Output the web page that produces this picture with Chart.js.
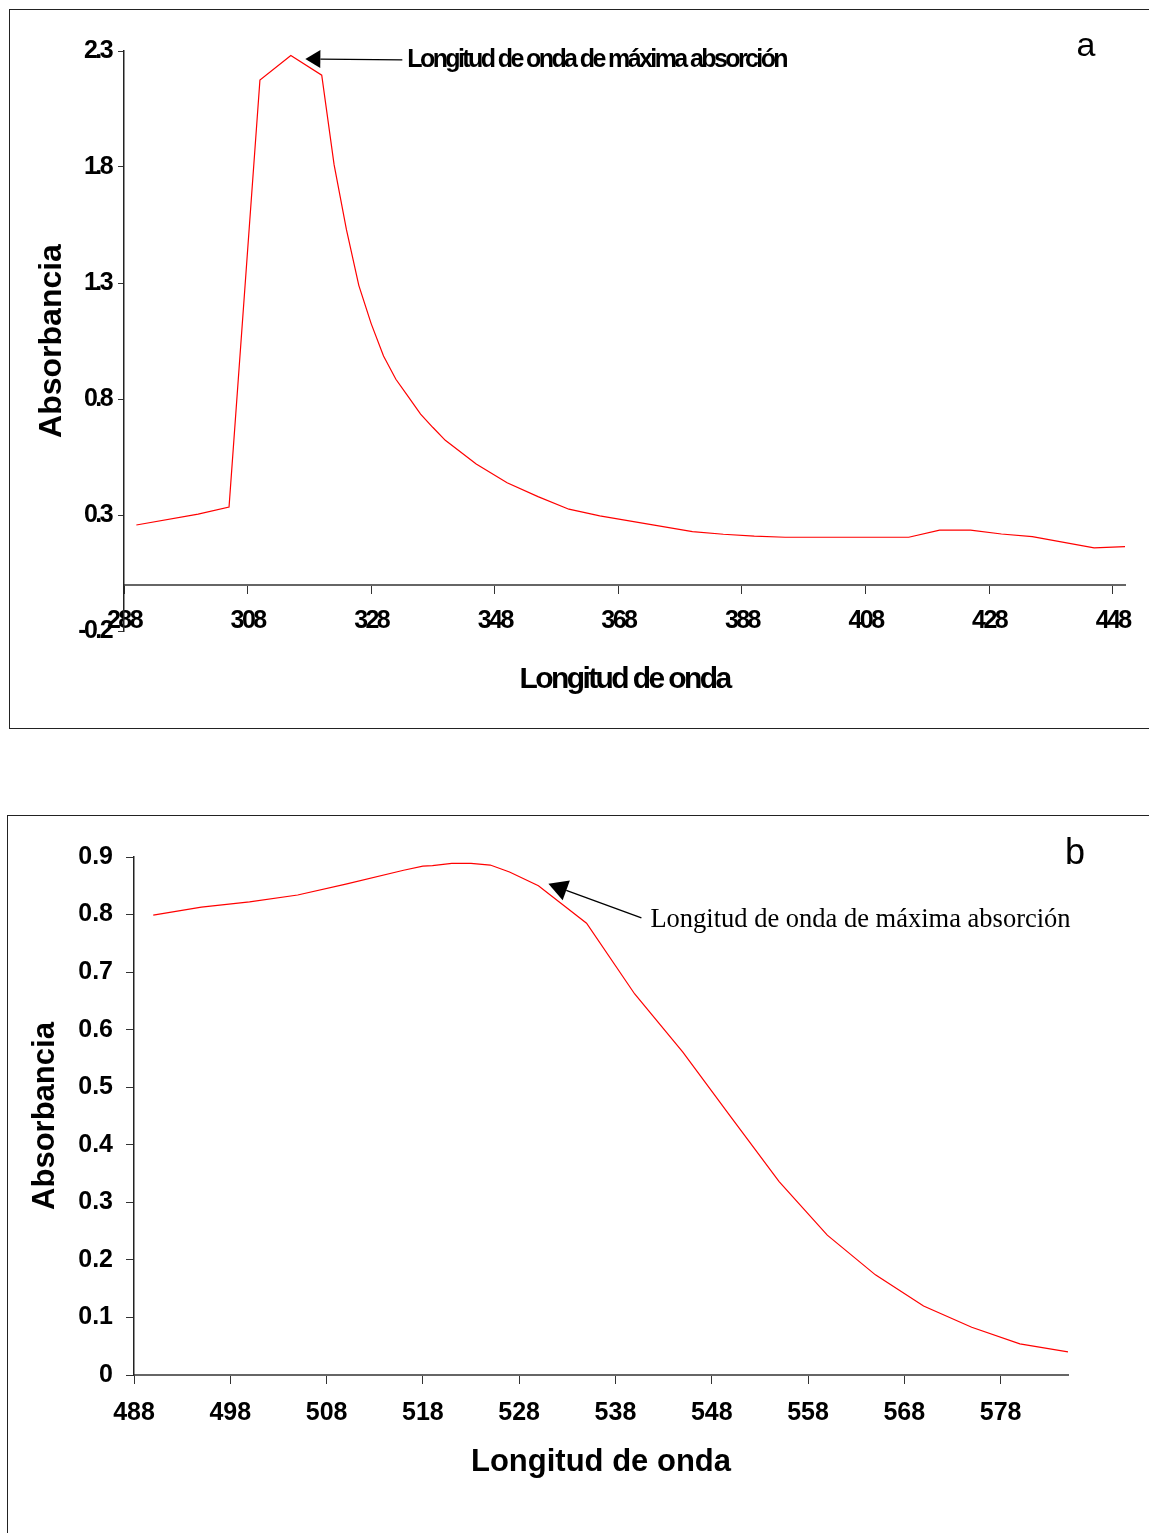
<!DOCTYPE html>
<html lang="es">
<head>
<meta charset="utf-8">
<title>Absorbancia vs longitud de onda</title>
<script src="https://cdn.jsdelivr.net/npm/chart.js@4.4.1/dist/chart.umd.min.js"></script>
<style>
  html, body { margin: 0; padding: 0; background: #fff; overflow: hidden; }
  body { position: relative; width: 1149px; height: 1533px; }
  .box { position: absolute; border: 1.5px solid #222; background: #fff; }
  #boxA { left: 9px; top: 9px; width: 1200px; height: 718px; }
  #boxB { left: 7px; top: 815px; width: 1200px; height: 800px; }
  canvas { position: absolute; left: 0; }
  #chartA { top: 0; }
  #chartB { top: 800px; }
</style>
</head>
<body>
<div class="box" id="boxA"></div>
<div class="box" id="boxB"></div>
<canvas id="chartA" width="1149" height="740"></canvas>
<canvas id="chartB" width="1149" height="733"></canvas>
<script>
// Gráfico a
const waveA = [290, 300, 305, 310, 315, 320, 322, 324, 326, 328, 330, 332, 334, 336, 338, 340, 345, 350, 355, 360, 365, 380, 385, 390, 395, 400, 405, 410, 415, 420, 425, 430, 435, 445, 450];
const absA = [0.257, 0.304, 0.334, 2.175, 2.281, 2.196, 1.81, 1.53, 1.29, 1.125, 0.985, 0.885, 0.81, 0.735, 0.677, 0.622, 0.52, 0.439, 0.379, 0.325, 0.296, 0.228, 0.217, 0.209, 0.204, 0.204, 0.204, 0.204, 0.204, 0.235, 0.235, 0.218, 0.207, 0.158, 0.164];
const xTicksA = [288, 308, 328, 348, 368, 388, 408, 428, 448];
const yTicksA = [-0.2, 0.3, 0.8, 1.3, 1.8, 2.3];

// Gráfico b
const waveB = [490, 495, 500, 505, 510, 516, 518, 519, 521, 523, 525, 527, 530, 535, 540, 545, 550, 555, 560, 565, 570, 575, 580, 585];
const absB = [0.799, 0.813, 0.822, 0.834, 0.853, 0.877, 0.884, 0.885, 0.889, 0.889, 0.886, 0.874, 0.850, 0.785, 0.662, 0.561, 0.448, 0.336, 0.243, 0.174, 0.120, 0.083, 0.054, 0.040];
const xTicksB = [488, 498, 508, 518, 528, 538, 548, 558, 568, 578];
const yTicksB = [0, 0.1, 0.2, 0.3, 0.4, 0.5, 0.6, 0.7, 0.8, 0.9];

const sans = "'Liberation Sans', Arial, sans-serif";
const serif = "'Liberation Serif', 'Book Antiqua', Palatino, serif";

Chart.defaults.font.family = sans;
Chart.defaults.color = '#000';

// flecha + texto de la longitud de onda máxima, letra del panel, título Y opcional
const annotate = {
  id: 'annotate',
  beforeInit(chart, args, o) {
    chart.ctx.letterSpacing = o.spacing || '0px';
  },
  beforeDraw(chart, args, o) {
    chart.ctx.letterSpacing = o.spacing || '0px';
  },
  afterDraw(chart, args, o) {
    const ctx = chart.ctx;
    const xs = chart.scales.x, ys = chart.scales.y;
    const tx = xs.getPixelForValue(o.at[0]) + o.shift[0];
    const ty = ys.getPixelForValue(o.at[1]) + o.shift[1];
    const ex = tx + o.tail[0], ey = ty + o.tail[1];
    const len = Math.hypot(ex - tx, ey - ty);
    const ux = (ex - tx) / len, uy = (ey - ty) / len;
    const bx = tx + ux * o.head, by = ty + uy * o.head;
    ctx.save();
    ctx.strokeStyle = '#000';
    ctx.fillStyle = '#000';
    ctx.lineWidth = 1.3;
    ctx.beginPath();
    ctx.moveTo(bx, by);
    ctx.lineTo(ex, ey);
    ctx.stroke();
    ctx.beginPath();
    ctx.moveTo(tx, ty);
    ctx.lineTo(bx - uy * o.half, by + ux * o.half);
    ctx.lineTo(bx + uy * o.half, by - ux * o.half);
    ctx.closePath();
    ctx.fill();
    ctx.font = o.font;
    ctx.textAlign = 'left';
    ctx.textBaseline = 'middle';
    ctx.fillText(o.text, tx + o.textAt[0], ty + o.textAt[1]);
    ctx.letterSpacing = '0px';
    ctx.font = o.panelFont;
    ctx.textAlign = 'center';
    ctx.fillText(o.panel, o.panelAt[0], o.panelAt[1]);
    if (o.yTitle) {
      const area = chart.chartArea;
      ctx.translate(o.yTitleX, (area.top + area.bottom) / 2);
      ctx.rotate(-Math.PI / 2);
      ctx.font = o.yTitleFont;
      ctx.fillText(o.yTitle, 0, 0);
    }
    ctx.restore();
  }
};

function points(xs, ys) {
  return xs.map((w, i) => ({ x: w, y: ys[i] }));
}

new Chart(document.getElementById('chartA'), {
  type: 'line',
  data: {
    datasets: [{ data: points(waveA, absA), borderColor: '#ff0000', borderWidth: 1.2, pointRadius: 0, tension: 0, fill: false }]
  },
  options: {
    responsive: false,
    animation: false,
    layout: { padding: { left: 0, top: 51, right: 24, bottom: 109 } },
    plugins: {
      legend: { display: false },
      tooltip: { enabled: false },
      annotate: {
        spacing: '-2.6px',
        at: [315, 2.281], shift: [14.5, 3.5], tail: [97, 1], head: 15, half: 9,
        text: 'Longitud de onda de máxima absorción', textAt: [102, 1],
        font: "bold 25px " + sans,
        panel: 'a', panelAt: [1086, 47], panelFont: "34px " + sans,
        yTitle: 'Absorbancia', yTitleX: 52, yTitleFont: "bold 32px " + sans
      }
    },
    scales: {
      x: {
        type: 'linear', position: { y: 0 }, min: 288, max: 450,
        afterBuildTicks: s => { s.ticks = xTicksA.map(v => ({ value: v })); },
        border: { color: '#666', width: 2 },
        grid: { drawOnChartArea: false, tickLength: 8, color: '#333' },
        ticks: { autoSkip: false, maxRotation: 0, padding: 14, color: '#000', font: { size: 25, weight: 'bold' }, callback: v => String(v) },
        title: { display: true, text: 'Longitud de onda', color: '#000', font: { size: 30, weight: 'bold' }, padding: { top: 11, bottom: 0 } }
      },
      y: {
        type: 'linear', min: -0.2, max: 2.3,
        afterBuildTicks: s => { s.ticks = yTicksA.map(v => ({ value: v })); },
        afterFit: s => { s.width = 124; },
        border: { color: '#222', width: 1.5 },
        grid: { drawOnChartArea: false, tickLength: 6, color: '#333' },
        ticks: { padding: 7, color: '#000', font: { size: 25, weight: 'bold' }, callback: v => v.toFixed(1) }
      }
    }
  },
  plugins: [annotate]
});

new Chart(document.getElementById('chartB'), {
  type: 'line',
  data: {
    datasets: [{ data: points(waveB, absB), borderColor: '#ff0000', borderWidth: 1.2, pointRadius: 0, tension: 0, fill: false }]
  },
  options: {
    responsive: false,
    animation: false,
    layout: { padding: { left: 0, top: 57, right: 81, bottom: 158 } },
    plugins: {
      legend: { display: false },
      tooltip: { enabled: false },
      annotate: {
        at: [530, 0.850], shift: [10, -2], tail: [93, 34], head: 19, half: 10.5,
        text: 'Longitud de onda de máxima absorción', textAt: [102, 36],
        font: "26.5px " + serif,
        panel: 'b', panelAt: [1075, 54], panelFont: "36px " + sans
      }
    },
    scales: {
      x: {
        type: 'linear', position: { y: 0 }, min: 488, max: 585,
        afterBuildTicks: s => { s.ticks = xTicksB.map(v => ({ value: v })); },
        border: { color: '#666', width: 2 },
        grid: { drawOnChartArea: false, tickLength: 8, color: '#333' },
        ticks: { autoSkip: false, maxRotation: 0, padding: 15, color: '#000', font: { size: 25, weight: 'bold' }, callback: v => String(v) },
        title: { display: true, text: 'Longitud de onda', color: '#000', font: { size: 31, weight: 'bold' }, padding: { top: 1, bottom: 0 } }
      },
      y: {
        type: 'linear', min: 0, max: 0.9,
        afterBuildTicks: s => { s.ticks = yTicksB.map(v => ({ value: v })); },
        afterFit: s => { s.width = 134; },
        border: { color: '#222', width: 1.5 },
        grid: { drawOnChartArea: false, tickLength: 8, color: '#333' },
        ticks: { padding: 13, color: '#000', font: { size: 25, weight: 'bold' }, callback: v => (v === 0 ? '0' : v.toFixed(1)) },
        title: { display: true, text: 'Absorbancia', color: '#000', font: { size: 31, weight: 'bold' }, padding: { top: 27, bottom: 0 } }
      }
    }
  },
  plugins: [annotate]
});
</script>
</body>
</html>
